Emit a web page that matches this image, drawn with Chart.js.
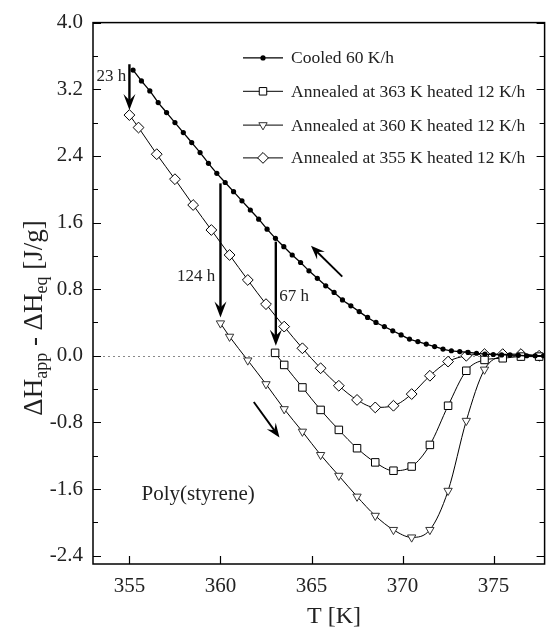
<!DOCTYPE html>
<html><head><meta charset="utf-8">
<script src="https://cdn.jsdelivr.net/npm/chart.js@4/dist/chart.umd.min.js"></script>
<style>html,body{margin:0;padding:0;background:#fff;}#wrap{width:551px;height:640px;}</style>
</head><body><div id="wrap"><canvas id="c" width="551" height="640"></canvas></div>
<script>
// ---- data ----
const seriesLabels = ['Cooled 60 K/h','Annealed at 363 K heated 12 K/h','Annealed at 360 K heated 12 K/h','Annealed at 355 K heated 12 K/h'];
const cooledT = [355.20,355.66,356.12,356.58,357.04,357.50,357.96,358.42,358.88,359.34,359.80,360.26,360.72,361.18,361.64,362.10,362.56,363.02,363.48,363.94,364.40,364.86,365.32,365.78,366.24,366.70,367.16,367.62,368.08,368.54,369.00,369.46,369.92,370.38,370.84,371.30,371.76,372.22,372.68,373.14,373.60,374.06,374.52,374.98,375.44,375.90,376.36,376.82,377.28,377.74];
const cooledH = [3.43,3.30,3.18,3.04,2.92,2.80,2.68,2.56,2.44,2.31,2.19,2.08,1.97,1.86,1.75,1.64,1.52,1.41,1.31,1.21,1.12,1.02,0.93,0.84,0.76,0.67,0.60,0.53,0.46,0.40,0.35,0.30,0.25,0.20,0.17,0.14,0.11,0.08,0.06,0.05,0.04,0.03,0.02,0.015,0.01,0.01,0.005,0.0,0.0,0.0];
const ann363T = [363.0,363.5,364.5,365.5,366.5,367.5,368.5,369.5,370.5,371.5,372.5,373.5,374.5,375.5,376.5,377.5];
const ann363H = [0.035,-0.11,-0.38,-0.65,-0.89,-1.11,-1.28,-1.38,-1.33,-1.07,-0.60,-0.18,-0.05,-0.03,-0.01,-0.01];
const ann360T = [360.0,360.5,361.5,362.5,363.5,364.5,365.5,366.5,367.5,368.5,369.5,370.5,371.5,372.5,373.5,374.5,375.5,376.5,377.5];
const ann360H = [0.39,0.23,-0.055,-0.34,-0.64,-0.91,-1.19,-1.44,-1.69,-1.92,-2.09,-2.18,-2.09,-1.62,-0.78,-0.165,-0.01,0.0,0.0];
const ann355T = [355.0,355.5,356.5,357.5,358.5,359.5,360.5,361.5,362.5,363.5,364.5,365.5,366.5,367.5,368.5,369.5,370.5,371.5,372.5,373.5,374.5,375.5,376.5,377.5];
const ann355H = [2.89,2.74,2.42,2.12,1.81,1.51,1.21,0.91,0.62,0.35,0.09,-0.15,-0.36,-0.53,-0.62,-0.60,-0.46,-0.24,-0.07,0.0,0.02,0.02,0.02,0.0];
const xTicks = [355,360,365,370,375];
const yTicks = [-2.4,-1.6,-0.8,0.0,0.8,1.6,2.4,3.2,4.0];
const yMinorTicks = [-2.0,-1.2,-0.4,0.4,1.2,2.0,2.8,3.6];
// annotation arrows [T0, H0, T1, H1] and labels
const arrowFromT = [355.0, 360.0, 363.04, 366.69, 361.83];
const arrowFromH = [3.50, 2.07, 1.37, 0.95, -0.555];
const arrowToT   = [355.0, 360.0, 363.04, 364.97, 363.24];
const arrowToH   = [2.95, 0.46, 0.12, 1.32, -0.98];
const noteText = ['23 h','124 h','67 h','Poly(styrene)'];
const noteT = [354.83, 359.71, 363.23, 361.88];
const noteH = [3.35, 0.95, 0.71, -1.66];
const noteAlign = ['right','right','left','right'];

const SERIF = "'Liberation Serif','Times New Roman',serif";
const pts = (xs, ys) => xs.map((x,i)=>({x:x, y:ys[i]}));

const styles = [
  {pointStyle:'circle', radius:2.6, rotation:0, bg:'#000', border:'#000', bw:0, lw:1.3},
  {pointStyle:'rect', radius:5.3, rotation:0, bg:'#fff', border:'#000', bw:1, lw:1},
  {pointStyle:'triangle', radius:4.8, rotation:180, bg:'#fff', border:'#333', bw:1, lw:1},
  {pointStyle:'rectRot', radius:5.4, rotation:0, bg:'#fff', border:'#000', bw:1, lw:1}
];
const dataSets = [pts(cooledT,cooledH), pts(ann363T,ann363H), pts(ann360T,ann360H), pts(ann355T,ann355H)];

function drawMarker(ctx, s, x, y){
  ctx.save();
  ctx.fillStyle = s.bg; ctx.strokeStyle = s.border; ctx.lineWidth = s.bw || 1;
  ctx.beginPath();
  const r = s.radius;
  if (s.pointStyle === 'circle') { ctx.arc(x,y,r,0,Math.PI*2); }
  else if (s.pointStyle === 'rect') { const h = r/Math.SQRT2; ctx.rect(x-h,y-h,2*h,2*h); }
  else if (s.pointStyle === 'rectRot') { ctx.moveTo(x,y-r); ctx.lineTo(x+r,y); ctx.lineTo(x,y+r); ctx.lineTo(x-r,y); ctx.closePath(); }
  else if (s.pointStyle === 'triangle') {
    const a = (s.rotation||0)*Math.PI/180;
    for (let k=0;k<3;k++){ const t = a - Math.PI/2 + k*2*Math.PI/3; const px = x + Math.cos(t)*r, py = y + Math.sin(t)*r; if(k===0) ctx.moveTo(px,py); else ctx.lineTo(px,py);} ctx.closePath();
  }
  ctx.fill(); if (s.bw>0) ctx.stroke();
  ctx.restore();
}

function arrow(ctx, x0,y0,x1,y1, lw, L, W){
  const dx=x1-x0, dy=y1-y0, len=Math.hypot(dx,dy), ux=dx/len, uy=dy/len, px=-uy, py=ux;
  ctx.save(); ctx.strokeStyle='#000'; ctx.fillStyle='#000'; ctx.lineWidth=lw;
  ctx.beginPath(); ctx.moveTo(x0,y0); ctx.lineTo(x1-ux*L*0.6, y1-uy*L*0.6); ctx.stroke();
  ctx.beginPath();
  ctx.moveTo(x1,y1);
  ctx.lineTo(x1-ux*L+px*W, y1-uy*L+py*W);
  ctx.lineTo(x1-ux*L*0.62, y1-uy*L*0.62);
  ctx.lineTo(x1-ux*L-px*W, y1-uy*L-py*W);
  ctx.closePath(); ctx.fill();
  ctx.restore();
}

const deco = {
  id:'deco',
  beforeDatasetsDraw(chart){
    const {ctx, chartArea:a, scales:{x,y}} = chart;
    ctx.save(); ctx.strokeStyle='#888'; ctx.lineWidth=1; ctx.setLineDash([2,3]);
    const y0 = Math.round(y.getPixelForValue(0))+0.5;
    ctx.beginPath(); ctx.moveTo(a.left, y0); ctx.lineTo(a.right, y0); ctx.stroke();
    ctx.restore();
  },
  afterDatasetsDraw(chart){
    const {ctx, chartArea:a, scales:{x,y}} = chart;
    ctx.save();
    // box
    ctx.strokeStyle='#000'; ctx.lineWidth=1.5;
    ctx.strokeRect(a.left, a.top, a.right-a.left, a.bottom-a.top);
    ctx.lineWidth=1.2;
    ctx.beginPath();
    yTicks.forEach(v=>{ const p=Math.round(y.getPixelForValue(v))+0.5; ctx.moveTo(a.left,p); ctx.lineTo(a.left+8,p); ctx.moveTo(a.right,p); ctx.lineTo(a.right-8,p); });
    yMinorTicks.forEach(v=>{ const p=Math.round(y.getPixelForValue(v))+0.5; ctx.moveTo(a.left,p); ctx.lineTo(a.left+5,p); ctx.moveTo(a.right,p); ctx.lineTo(a.right-5,p); });
    xTicks.forEach(v=>{ const p=Math.round(x.getPixelForValue(v))+0.5; ctx.moveTo(p,a.bottom); ctx.lineTo(p,a.bottom-8); });
    ctx.stroke();
    // arrows
    arrowFromT.forEach((t,i)=>{
      const vertical = arrowFromT[i]===arrowToT[i];
      arrow(ctx, x.getPixelForValue(t), y.getPixelForValue(arrowFromH[i]), x.getPixelForValue(arrowToT[i]), y.getPixelForValue(arrowToH[i]), vertical?2.4:1.9, vertical?16:14, vertical?6:5.5);
    });
    // notes
    ctx.fillStyle='#222'; ctx.textBaseline='middle';
    noteText.forEach((t,i)=>{
      ctx.font = (i===3? '21px ':'17px ') + SERIF;
      ctx.textAlign = noteAlign[i];
      ctx.fillText(t, x.getPixelForValue(noteT[i]), y.getPixelForValue(noteH[i]));
    });
    // legend
    const rows = [35.3, 68.7, 102.5, 135.3];
    ctx.font = '17.5px ' + SERIF; ctx.textAlign='left';
    rows.forEach((ry,i)=>{
      const yy = a.top + ry, lx0 = a.left + 150, lx1 = a.left + 190;
      ctx.strokeStyle='#000'; ctx.lineWidth=styles[i].lw;
      ctx.beginPath(); ctx.moveTo(lx0,yy); ctx.lineTo(lx1,yy); ctx.stroke();
      drawMarker(ctx, styles[i], (lx0+lx1)/2, yy);
      ctx.fillStyle='#222';
      ctx.fillText(seriesLabels[i], a.left + 198, yy+1);
    });
    // x title
    ctx.font = '24px ' + SERIF; ctx.textAlign='center'; ctx.textBaseline='middle';
    ctx.fillText('T [K]', 334, 617);
    // y title with subscripts
    ctx.translate(33, 318); ctx.rotate(-Math.PI/2);
    const parts = [['\u0394H',27,0],['app',18,5],[' - \u0394H',27,0],['eq',18,5],[' [J/g]',27,0]];
    let total = 0;
    parts.forEach(p=>{ ctx.font = p[1]+'px '+SERIF; total += ctx.measureText(p[0]).width; });
    let cx = -total/2; ctx.textAlign='left'; ctx.textBaseline='alphabetic';
    parts.forEach(p=>{ ctx.font = p[1]+'px '+SERIF; ctx.fillText(p[0], cx, 9+p[2]); cx += ctx.measureText(p[0]).width; });
    ctx.restore();
  }
};

const datasets = dataSets.map((d,i)=>({
  label: seriesLabels[i], data: d,
  borderColor:'#000', borderWidth: styles[i].lw,
  pointStyle: styles[i].pointStyle, pointRadius: styles[i].radius, pointRotation: styles[i].rotation,
  pointBackgroundColor: styles[i].bg, pointBorderColor: styles[i].border, pointBorderWidth: styles[i].bw,
  pointHoverRadius: styles[i].radius,
  cubicInterpolationMode:'monotone', fill:false, showLine:true
}));

new Chart(document.getElementById('c'), {
  type:'scatter',
  data:{datasets},
  options:{
    responsive:false, animation:false, devicePixelRatio:1,
    layout:{padding:{left:0,right:3,top:13,bottom:0}},
    plugins:{legend:{display:false}, tooltip:{enabled:false}},
    scales:{
      x:{type:'linear', min:353, max:377.8,
        afterBuildTicks: s => { s.ticks = xTicks.map(v=>({value:v})); },
        afterFit: s => { s.height = 76; },
        grid:{display:false, drawTicks:false}, border:{display:false},
        ticks:{font:{family:SERIF,size:21}, color:'#222', padding:10, callback:v=>String(v)}},
      y:{type:'linear', min:-2.5, max:4.0,
        afterBuildTicks: s => { s.ticks = yTicks.map(v=>({value:v})); },
        afterFit: s => { s.width = 93; },
        grid:{display:false, drawTicks:false}, border:{display:false},
        ticks:{font:{family:SERIF,size:21}, color:'#222', padding:10, callback:v=>Number(v).toFixed(1)}}
    }
  },
  plugins:[deco]
});
</script></body></html>
